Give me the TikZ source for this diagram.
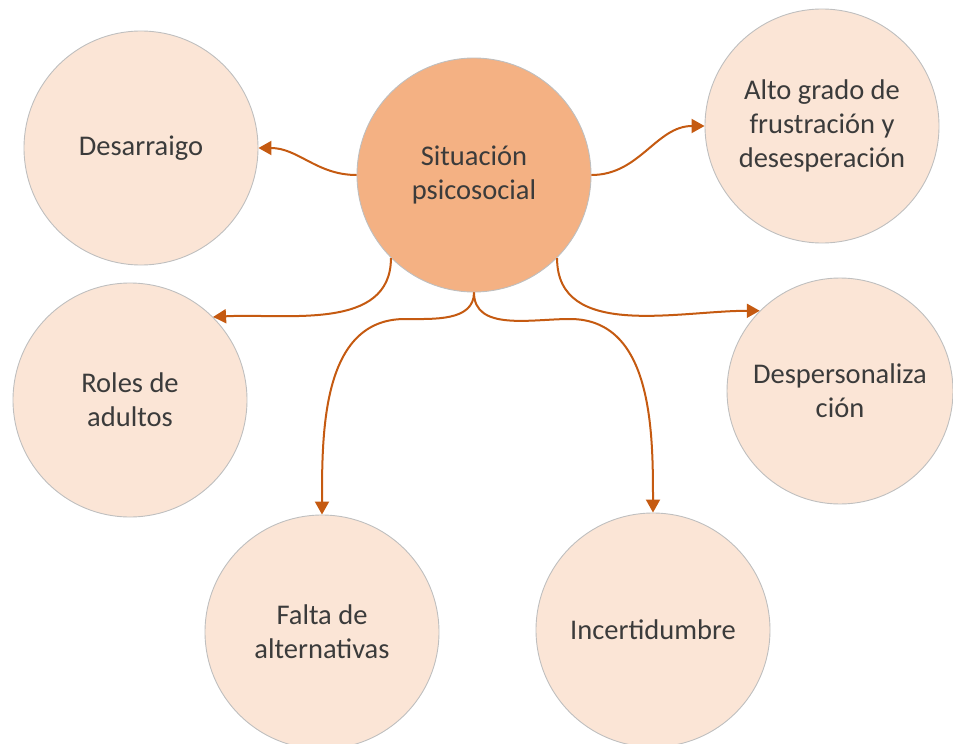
\documentclass[tikz,border=0pt]{standalone}
\usepackage{fontspec}
\setmainfont{Carlito}
\usetikzlibrary{shapes,arrows.meta,positioning}
\definecolor{darkorange}{HTML}{C55A11}
\definecolor{midorange}{HTML}{F4B183}
\definecolor{paleorange}{HTML}{FBE5D6}
\definecolor{rimgrey}{HTML}{BFBFBF}
\definecolor{textgrey}{HTML}{3B3B3B}

\begin{document}
\begin{tikzpicture}[x=1pt, y=1pt, ->, >={Triangle[length=13pt,width=14pt]}]
        \tikzstyle{bubble}=[circle, draw=rimgrey, line width=0.9pt, fill=paleorange, minimum size=234pt, inner sep=0pt, align=center, text=textgrey, font=\fontsize{28.5}{34}\selectfont]
        \tikzstyle{hub}=[bubble, fill=midorange]
        \tikzstyle{link}=[darkorange, line width=2pt]
        \clip (0,0) rectangle (953,-744);
        \node[hub]    (S) at (474,-175)   {Situación\\psicosocial};
        \node[bubble] (D) at (141,-148)   {Desarraigo};
        \node[bubble] (A) at (822,-126)   {Alto grado de\\frustración y\\desesperación};
        \node[bubble] (R) at (130,-400)   {Roles de\\adultos};
        \node[bubble, minimum size=226pt] (P) at (840,-391) {Despersonaliza\\ción};
        \node[bubble] (F) at (322,-632)   {Falta de\\alternativas};
        \node[bubble] (I) at (653,-630)   {Incertidumbre};
        \coordinate (lfork) at (405,-319);
        \coordinate (rfork) at (570,-319);
        \path[link]
        (S.west)       edge[out=180,in=0]   (D.east)
        (S.east)       edge[out=0,in=180]   (A.west)
        (S.south west) edge[out=-90,in=3]   (R.north east)
        (S.south east) edge[out=-90,in=180] (P.north west);
        \draw[link] (S.south) to[out=-90,in=0] (lfork) to[out=180,in=90] (F.north);
        \draw[link] (S.south) to[out=-90,in=180] (rfork) to[out=0,in=90] (I.north);
\end{tikzpicture}
\end{document}
